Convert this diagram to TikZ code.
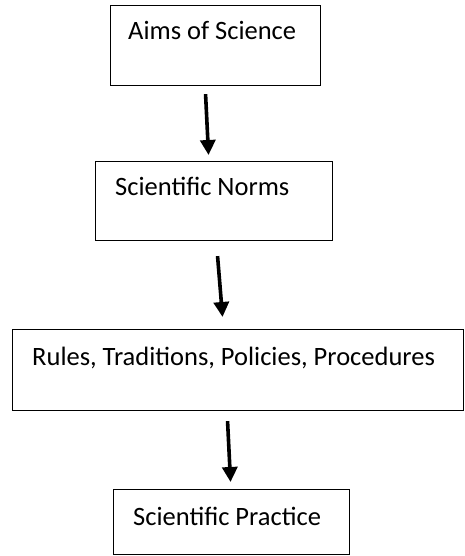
\documentclass[tikz,border=0pt]{standalone}
\usepackage{fontspec}
\setmainfont{Carlito}
\usetikzlibrary{arrows.meta}
\begin{document}
\begin{tikzpicture}[x=1pt,y=-1pt,
  boxst/.style={draw=black,line width=1.1pt,inner sep=0pt,anchor=north west},
  txt/.style={anchor=base west,inner sep=0pt,font=\fontsize{26.5}{30}\selectfont},
  arr/.style={line width=3.6pt,-{Triangle[length=15pt,width=15pt]}}]
\useasboundingbox (0,0) rectangle (465,556);
% boxes
\node[boxst,minimum width=210pt,minimum height=80pt] (b1) at (110,5) {};
\node[boxst,minimum width=237pt,minimum height=79pt] (b2) at (95,161) {};
\node[boxst,minimum width=451pt,minimum height=81pt] (b3) at (12,329) {};
\node[boxst,minimum width=236pt,minimum height=65pt] (b4) at (113,489) {};
% texts
\node[txt] (t1) at (128,40) {Aims of Science};
\node[txt] (t2) at (115,195) {Scientific Norms};
\node[txt] (t3) at (32,365) {Rules, Traditions, Policies, Procedures};
\node[txt] (t4) at (133,525) {Scientific Practice};
% arrows
\draw[arr] ([shift={(-10,8)}]b1.south) -- ([shift={(-5.5,-6)}]b2.north);
\draw[arr] ([shift={(3.5,15)}]b2.south) -- ([shift={(-15.5,-12)}]b3.north);
\draw[arr] ([shift={(-10.5,10)}]b3.south) -- ([shift={(-1,-7)}]b4.north);
\end{tikzpicture}
\end{document}
